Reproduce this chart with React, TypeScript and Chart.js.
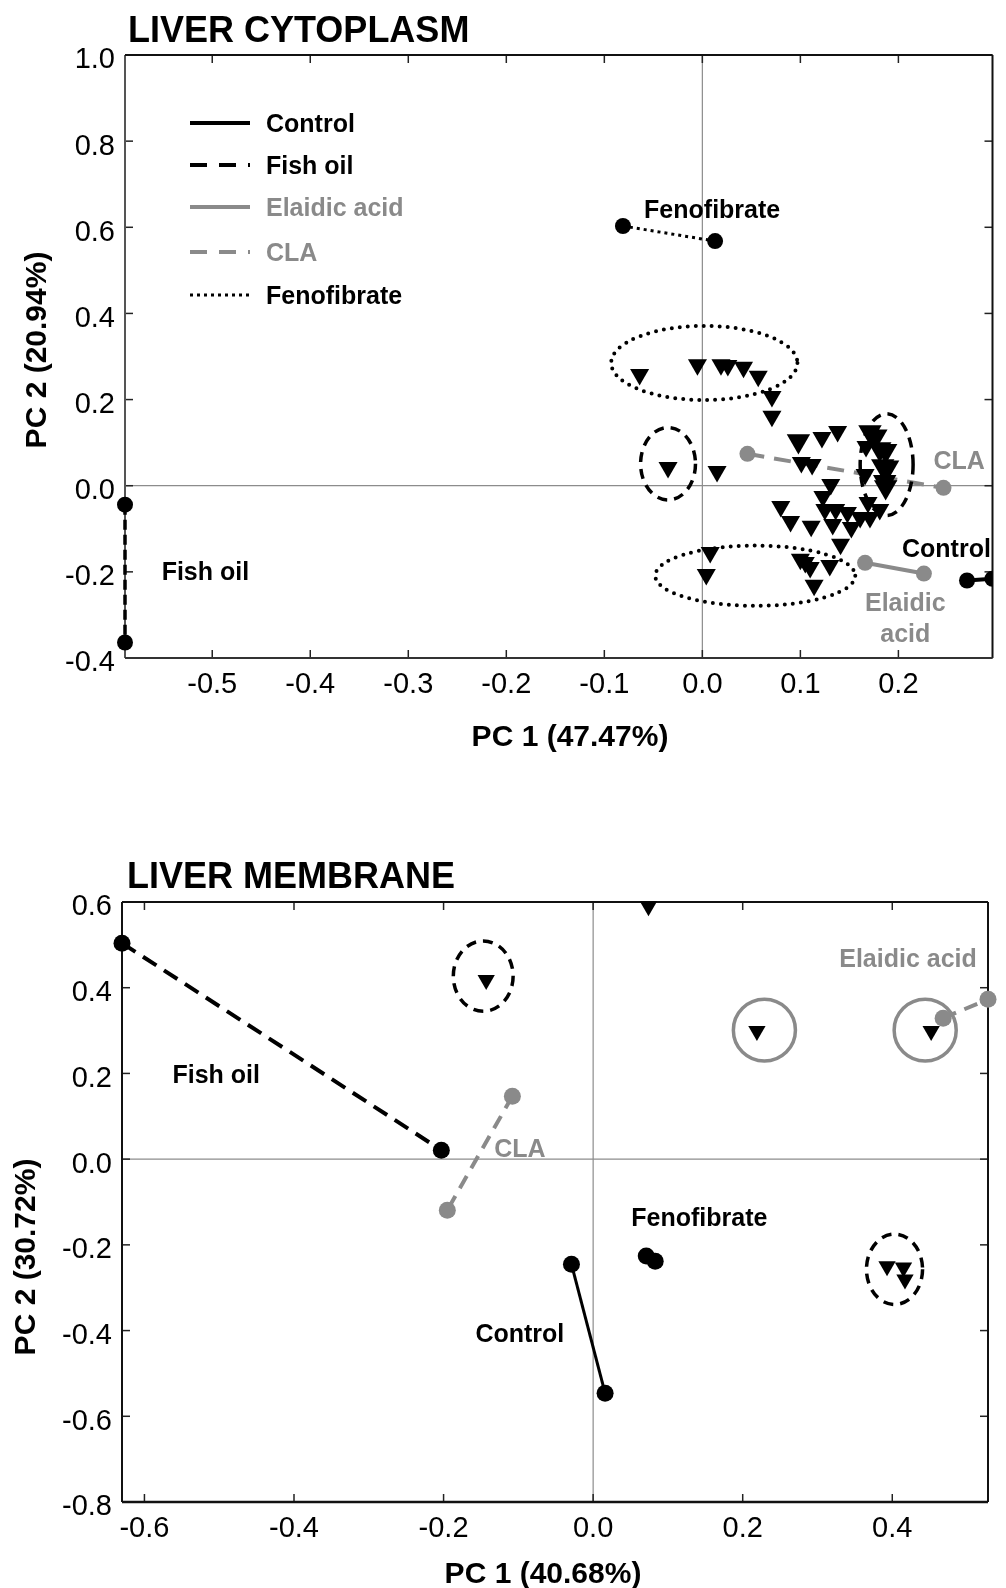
import React, { useEffect, useRef } from 'react';
import { Chart, registerables } from 'chart.js';

Chart.register(...registerables);

const FONT = '"Liberation Sans", Arial, Helvetica, sans-serif';
const BLACK = '#000000';
const GRAY = '#8a8a8a';

// ---------------- LIVER CYTOPLASM (top) ----------------
const cytoXTicks = [-0.5, -0.4, -0.3, -0.2, -0.1, 0.0, 0.1, 0.2];
const cytoYTicks = [1.0, 0.8, 0.6, 0.4, 0.2, 0.0, -0.2, -0.4];

const cytoControl = [{ x: 0.270, y: -0.220 }, { x: 0.296, y: -0.216 }];
const cytoFishOil = [{ x: -0.589, y: -0.044 }, { x: -0.589, y: -0.364 }];
const cytoElaidic = [{ x: 0.166, y: -0.179 }, { x: 0.226, y: -0.204 }];
const cytoCLA = [{ x: 0.046, y: 0.074 }, { x: 0.246, y: -0.005 }];
const cytoFenofibrate = [{ x: -0.081, y: 0.603 }, { x: 0.013, y: 0.568 }];

const cytoTrianglesSmall = [
  { x: -0.064, y: 0.258 }, { x: -0.005, y: 0.281 }, { x: 0.019, y: 0.281 }, { x: 0.026, y: 0.279 },
  { x: 0.042, y: 0.275 }, { x: 0.057, y: 0.254 }, { x: 0.071, y: 0.207 }, { x: 0.071, y: 0.161 },
  { x: 0.122, y: 0.112 }, { x: 0.138, y: 0.126 }, { x: 0.101, y: 0.054 }, { x: 0.112, y: 0.049 },
  { x: 0.167, y: 0.091 }, { x: 0.166, y: 0.026 }, { x: 0.131, y: 0.003 }, { x: 0.123, y: -0.025 },
  { x: 0.169, y: -0.039 }, { x: 0.181, y: -0.055 }, { x: 0.080, y: -0.048 }, { x: 0.125, y: -0.055 },
  { x: 0.136, y: -0.055 }, { x: 0.148, y: -0.062 }, { x: 0.090, y: -0.083 }, { x: 0.161, y: -0.074 },
  { x: 0.171, y: -0.074 }, { x: 0.111, y: -0.094 }, { x: 0.133, y: -0.090 }, { x: 0.152, y: -0.097 },
  { x: 0.141, y: -0.136 }, { x: -0.035, y: 0.042 }, { x: 0.015, y: 0.033 },
  { x: 0.008, y: -0.155 }, { x: 0.004, y: -0.206 }, { x: 0.100, y: -0.171 }, { x: 0.105, y: -0.178 },
  { x: 0.110, y: -0.190 }, { x: 0.130, y: -0.185 }, { x: 0.114, y: -0.231 },
];
const cytoTrianglesLarge = [
  { x: 0.098, y: 0.104 }, { x: 0.171, y: 0.125 }, { x: 0.177, y: 0.115 }, { x: 0.181, y: 0.085 },
  { x: 0.187, y: 0.081 }, { x: 0.184, y: 0.046 }, { x: 0.189, y: 0.043 }, { x: 0.186, y: 0.009 },
  { x: 0.187, y: -0.003 },
];

// annotation ellipses (data units)
const cytoEllipses = [
  { x: 0.002, y: 0.285, rx: 0.095, ry: 0.086, style: 'dotted' },
  { x: -0.035, y: 0.051, rx: 0.028, ry: 0.084, style: 'dashed' },
  { x: 0.188, y: 0.049, rx: 0.027, ry: 0.118, style: 'dashed' },
  { x: 0.054, y: -0.209, rx: 0.102, ry: 0.070, style: 'dotted' },
];
const cytoLabels = [
  { text: 'Fenofibrate', x: 0.010, y: 0.643, color: BLACK },
  { text: 'CLA', x: 0.262, y: 0.060, color: GRAY },
  { text: 'Control', x: 0.249, y: -0.144, color: BLACK },
  { text: 'Elaidic', x: 0.207, y: -0.269, color: GRAY },
  { text: 'acid', x: 0.207, y: -0.341, color: GRAY },
  { text: 'Fish oil', x: -0.507, y: -0.197, color: BLACK },
];
const legendNames = ['Control', 'Fish oil', 'Elaidic acid', 'CLA', 'Fenofibrate'];

// ---------------- LIVER MEMBRANE (bottom) ----------------
const memXTicks = [-0.6, -0.4, -0.2, 0.0, 0.2, 0.4];
const memYTicks = [0.6, 0.4, 0.2, 0.0, -0.2, -0.4, -0.6, -0.8];

const memControl = [{ x: -0.029, y: -0.245 }, { x: 0.016, y: -0.546 }];
const memFishOil = [{ x: -0.630, y: 0.504 }, { x: -0.203, y: 0.021 }];
const memElaidic = [{ x: 0.468, y: 0.329 }, { x: 0.528, y: 0.373 }];
const memCLA = [{ x: -0.108, y: 0.147 }, { x: -0.195, y: -0.119 }];
const memFenofibrate = [{ x: 0.071, y: -0.226 }, { x: 0.083, y: -0.238 }];
const memTriangles = [
  { x: 0.074, y: 0.590 }, { x: -0.143, y: 0.418 }, { x: 0.219, y: 0.299 }, { x: 0.452, y: 0.299 },
  { x: 0.393, y: -0.250 }, { x: 0.415, y: -0.253 }, { x: 0.417, y: -0.281 },
];
const memEllipses = [
  { x: -0.147, y: 0.427, rx: 0.040, ry: 0.082, style: 'dashed' },
  { x: 0.229, y: 0.301, rx: 0.0415, ry: 0.072, style: 'gray' },
  { x: 0.444, y: 0.301, rx: 0.0415, ry: 0.072, style: 'gray' },
  { x: 0.403, y: -0.257, rx: 0.0375, ry: 0.082, style: 'dashed' },
];
const memLabels = [
  { text: 'Fish oil', x: -0.504, y: 0.198, color: BLACK },
  { text: 'CLA', x: -0.098, y: 0.026, color: GRAY },
  { text: 'Elaidic acid', x: 0.421, y: 0.469, color: GRAY },
  { text: 'Fenofibrate', x: 0.142, y: -0.135, color: BLACK },
  { text: 'Control', x: -0.098, y: -0.406, color: BLACK },
];

// ---------------- helpers ----------------
function txt(ctx: any, s: string, x: number, yc: number, size: number, bold: boolean, color: string, align: string) {
  ctx.font = `${bold ? 'bold ' : ''}${size}px ${FONT}`;
  ctx.fillStyle = color;
  ctx.textAlign = align;
  ctx.textBaseline = 'alphabetic';
  ctx.fillText(s, x, yc + size * 0.358);
}

function seg(ctx: any, x1: number, y1: number, x2: number, y2: number) {
  ctx.beginPath();
  ctx.moveTo(x1, y1);
  ctx.lineTo(x2, y2);
  ctx.stroke();
}

function setStyle(ctx: any, style: string) {
  if (style === 'dotted') {
    ctx.strokeStyle = BLACK; ctx.lineWidth = 4; ctx.lineCap = 'round'; ctx.setLineDash([0, 8]);
  } else if (style === 'dashed') {
    ctx.strokeStyle = BLACK; ctx.lineWidth = 3.5; ctx.lineCap = 'butt'; ctx.setLineDash([10, 7]);
  } else {
    ctx.strokeStyle = GRAY; ctx.lineWidth = 3.5; ctx.lineCap = 'butt'; ctx.setLineDash([]);
  }
}

function makePlugin(spec: any) {
  return {
    id: 'panelDecor',
    beforeDatasetsDraw(chart: any) {
      const { ctx, chartArea: a } = chart;
      const xs = chart.scales.x, ys = chart.scales.y;
      ctx.save();
      // zero lines
      ctx.strokeStyle = '#8c8c8c'; ctx.lineWidth = 1.2; ctx.setLineDash([]);
      const x0 = xs.getPixelForValue(0), y0 = ys.getPixelForValue(0);
      seg(ctx, x0, a.top, x0, a.bottom);
      seg(ctx, a.left, y0, a.right, y0);
      // ticks (inward, all four sides)
      ctx.strokeStyle = '#222'; ctx.lineWidth = 1.5;
      spec.xTicks.forEach((v: number) => {
        const px = xs.getPixelForValue(v);
        seg(ctx, px, a.bottom, px, a.bottom - 8);
        seg(ctx, px, a.top, px, a.top + 8);
      });
      spec.yTicks.forEach((v: number) => {
        const py = ys.getPixelForValue(v);
        seg(ctx, a.left, py, a.left + 8, py);
        seg(ctx, a.right, py, a.right - 8, py);
      });
      // frame
      ctx.lineWidth = 2;
      ctx.strokeStyle = spec.leftAxisColor;
      seg(ctx, a.left, a.top, a.left, a.bottom);
      ctx.strokeStyle = '#111';
      seg(ctx, a.left, a.top, a.right, a.top);
      seg(ctx, a.right, a.top, a.right, a.bottom);
      ctx.strokeStyle = spec.bottomAxisColor;
      ctx.lineWidth = spec.bottomAxisWidth;
      seg(ctx, a.left, a.bottom, a.right, a.bottom);
      // tick labels
      spec.xTicks.forEach((v: number) => {
        txt(ctx, v.toFixed(1), xs.getPixelForValue(v), a.bottom + 25, 29, false, BLACK, 'center');
      });
      spec.yTicks.forEach((v: number) => {
        txt(ctx, v.toFixed(1), a.left - 10, ys.getPixelForValue(v) + 3, 29, false, BLACK, 'right');
      });
      // titles
      ctx.font = `bold 36px ${FONT}`;
      ctx.fillStyle = BLACK; ctx.textAlign = 'left'; ctx.textBaseline = 'alphabetic';
      ctx.fillText(spec.title, spec.titleX, spec.titleBaseline);
      txt(ctx, spec.xTitle, spec.xTitlePos[0], spec.xTitlePos[1], 30, true, BLACK, 'center');
      ctx.save();
      ctx.translate(spec.yTitlePos[0], spec.yTitlePos[1]);
      ctx.rotate(-Math.PI / 2);
      txt(ctx, spec.yTitle, 0, 0, 30, true, BLACK, 'center');
      ctx.restore();
      ctx.restore();
    },
    afterDatasetsDraw(chart: any) {
      const { ctx } = chart;
      const xs = chart.scales.x, ys = chart.scales.y;
      ctx.save();
      // ellipses
      spec.ellipses.forEach((e: any) => {
        const cx = xs.getPixelForValue(e.x), cy = ys.getPixelForValue(e.y);
        const rx = Math.abs(xs.getPixelForValue(e.x + e.rx) - cx);
        const ry = Math.abs(ys.getPixelForValue(e.y + e.ry) - cy);
        setStyle(ctx, e.style);
        ctx.beginPath();
        ctx.ellipse(cx, cy, rx, ry, 0, 0, Math.PI * 2);
        ctx.stroke();
      });
      ctx.setLineDash([]);
      // labels
      spec.labels.forEach((l: any) => {
        txt(ctx, l.text, xs.getPixelForValue(l.x), ys.getPixelForValue(l.y), 25, true, l.color, 'center');
      });
      // legend
      if (spec.legend) {
        const lg = spec.legend;
        lg.names.forEach((name: string, i: number) => {
          const yc = lg.ys[i];
          const st = lg.styles[i];
          ctx.strokeStyle = st.color; ctx.lineWidth = st.width; ctx.lineCap = 'butt';
          ctx.setLineDash(st.dash);
          seg(ctx, lg.x1, yc, lg.x2, yc);
          ctx.setLineDash([]);
          txt(ctx, name, lg.textX, yc, 25, true, st.color, 'left');
        });
      }
      ctx.restore();
    },
  };
}

function lineDs(data: any[], color: string, width: number, dash: number[], r: number, clip: any) {
  return {
    data, showLine: true, borderColor: color, borderWidth: width, borderDash: dash,
    backgroundColor: color, pointBackgroundColor: color, pointBorderColor: color,
    pointBorderWidth: 0, pointRadius: r, pointHoverRadius: r, pointStyle: 'circle', clip,
  };
}
function triDs(data: any[], r: number) {
  return {
    data, showLine: false, backgroundColor: BLACK, pointBackgroundColor: BLACK, pointBorderColor: BLACK,
    pointBorderWidth: 0, pointRadius: r, pointHoverRadius: r, pointStyle: 'triangle', pointRotation: 180,
    clip: false,
  };
}

const topSpec = {
  width: 1006, height: 790,
  padding: { left: 125, top: 55, right: 5, bottom: 132 },
  xMin: -0.589, xMax: 0.296, yMin: -0.4, yMax: 1.0,
  xTicks: cytoXTicks, yTicks: cytoYTicks,
  leftAxisColor: '#555', bottomAxisColor: '#333', bottomAxisWidth: 2,
  title: 'LIVER CYTOPLASM', titleX: 128, titleBaseline: 42,
  xTitle: 'PC 1 (47.47%)', xTitlePos: [570, 735],
  yTitle: 'PC 2 (20.94%)', yTitlePos: [35, 350],
  ellipses: cytoEllipses, labels: cytoLabels,
  legend: {
    names: legendNames, x1: 190, x2: 250, textX: 266, ys: [123, 165, 207, 252, 295],
    styles: [
      { color: BLACK, width: 4, dash: [] },
      { color: BLACK, width: 4, dash: [17, 12] },
      { color: GRAY, width: 4, dash: [] },
      { color: GRAY, width: 4, dash: [17, 12] },
      { color: BLACK, width: 3, dash: [3, 4] },
    ],
  },
  datasets: [
    triDs(cytoTrianglesSmall, 11),
    triDs(cytoTrianglesLarge, 13.5),
    lineDs(cytoFenofibrate, BLACK, 3, [3, 4], 8, false),
    lineDs(cytoFishOil, BLACK, 3.5, [10, 5], 8, false),
    lineDs(cytoCLA, GRAY, 4, [17, 10], 8, false),
    lineDs(cytoElaidic, GRAY, 4, [], 8, false),
    lineDs(cytoControl, BLACK, 4, [], 8, 0),
  ],
};

const bottomSpec = {
  width: 1006, height: 798,
  padding: { left: 122, top: 112, right: 18, bottom: 86 },
  xMin: -0.630, xMax: 0.528, yMin: -0.8, yMax: 0.6,
  xTicks: memXTicks, yTicks: memYTicks,
  leftAxisColor: '#111', bottomAxisColor: '#111', bottomAxisWidth: 2.5,
  title: 'LIVER MEMBRANE', titleX: 127, titleBaseline: 98,
  xTitle: 'PC 1 (40.68%)', xTitlePos: [543, 782],
  yTitle: 'PC 2 (30.72%)', yTitlePos: [24, 467],
  ellipses: memEllipses, labels: memLabels,
  legend: null,
  datasets: [
    triDs(memTriangles, 10),
    lineDs(memFishOil, BLACK, 4, [16, 9], 8.5, false),
    lineDs(memCLA, GRAY, 4, [14, 9], 8.5, false),
    lineDs(memElaidic, GRAY, 4, [14, 9], 8.5, false),
    lineDs(memControl, BLACK, 3, [], 8.5, false),
    lineDs(memFenofibrate, BLACK, 2, [2, 3], 8.5, false),
  ],
};

function Panel({ spec, top }: { spec: any; top: number }) {
  const ref = useRef<HTMLCanvasElement | null>(null);
  useEffect(() => {
    if (!ref.current) return;
    const chart = new Chart(ref.current, {
      type: 'scatter',
      data: { datasets: spec.datasets },
      options: {
        responsive: false,
        maintainAspectRatio: false,
        animation: false,
        events: [],
        layout: { padding: spec.padding },
        plugins: { legend: { display: false }, tooltip: { enabled: false }, title: { display: false } },
        scales: {
          x: { type: 'linear', display: false, min: spec.xMin, max: spec.xMax },
          y: { type: 'linear', display: false, min: spec.yMin, max: spec.yMax },
        },
      } as any,
      plugins: [makePlugin(spec)],
    } as any);
    return () => chart.destroy();
  }, []);
  return (
    <canvas
      ref={ref}
      width={spec.width}
      height={spec.height}
      style={{ position: 'absolute', left: 0, top, width: spec.width, height: spec.height }}
    />
  );
}

export default function App() {
  return (
    <div style={{ position: 'absolute', left: 0, top: 0, width: 1006, height: 1588, background: '#ffffff' }}>
      <Panel spec={topSpec} top={0} />
      <Panel spec={bottomSpec} top={790} />
    </div>
  );
}
